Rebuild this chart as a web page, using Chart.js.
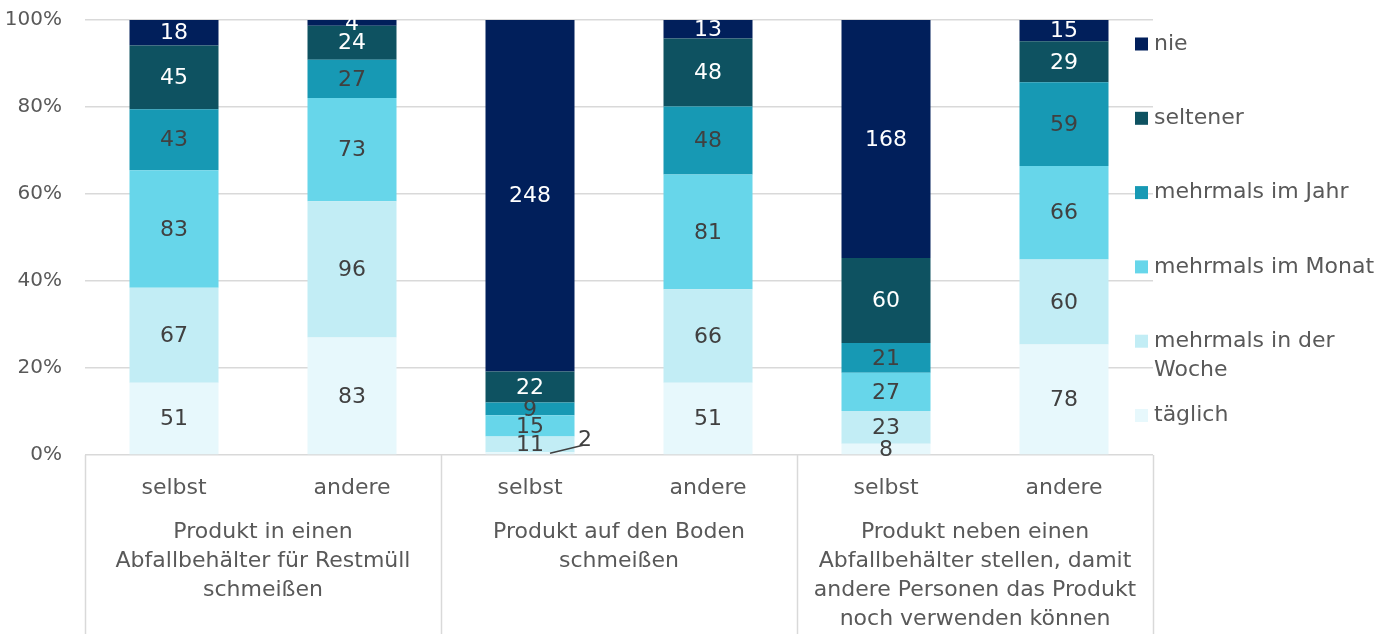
<!DOCTYPE html>
<html>
<head>
<meta charset="utf-8">
<script src="https://cdn.jsdelivr.net/npm/chart.js@4.4.1/dist/chart.umd.min.js"></script>
<style>
html,body{margin:0;padding:0;background:#fff;}
#wrap{width:1387px;height:634px;}
</style>
</head>
<body>
<div id="wrap"><canvas id="c" width="1387" height="634"></canvas></div>
<script>
// Categories (bar level)
const barLabels = ["selbst", "andere", "selbst", "andere", "selbst", "andere"];
// Group labels (lines)
const groupLabels = [
  ["Produkt in einen", "Abfallbehälter für Restmüll", "schmeißen"],
  ["Produkt auf den Boden", "schmeißen"],
  ["Produkt neben einen", "Abfallbehälter stellen, damit", "andere Personen das Produkt", "noch verwenden können"]
];
// Series counts (bottom to top)
const taeglich      = [51, 83, 2, 51, 8, 78];
const proWoche      = [67, 96, 11, 66, 23, 60];
const proMonat      = [83, 73, 15, 81, 27, 66];
const proJahr       = [43, 27, 9, 48, 21, 59];
const seltener      = [45, 24, 22, 48, 60, 29];
const nie           = [18, 4, 248, 13, 168, 15];
const seriesNames   = ["täglich", "mehrmals in der\nWoche", "mehrmals im Monat", "mehrmals im Jahr", "seltener", "nie"];
const seriesColors  = ["#e7f8fc", "#c2edf5", "#67d6ea", "#1799b4", "#0e5261", "#011f5b"];
const labelColors   = ["#404040", "#404040", "#404040", "#404040", "#ffffff", "#ffffff"];
const yTicks = [0, 20, 40, 60, 80, 100];

const seriesCounts = [taeglich, proWoche, proMonat, proJahr, seltener, nie];
const totals = barLabels.map((_, i) => seriesCounts.reduce((s, a) => s + a[i], 0));

const FONT = "'DejaVu Sans', sans-serif";
const GRAY = "#595959";
const LINE = "#d9d9d9";

const datasets = seriesCounts.map((arr, k) => ({
  label: seriesNames[k],
  data: arr.map((v, i) => v / totals[i] * 100),
  counts: arr,
  backgroundColor: seriesColors[k],
  borderWidth: 0,
  categoryPercentage: 1.0,
  barPercentage: 0.5
}));

const overlay = {
  id: 'overlay',
  afterDatasetsDraw(chart) {
    const ctx = chart.ctx;
    ctx.save();
    ctx.font = "22px " + FONT;
    ctx.textAlign = "center";
    ctx.textBaseline = "middle";
    chart.data.datasets.forEach((ds, k) => {
      const meta = chart.getDatasetMeta(k);
      meta.data.forEach((el, i) => {
        const h = Math.abs(el.base - el.y);
        const cy = (el.y + el.base) / 2;
        const txt = String(ds.counts[i]);
        if (h < 5) {
          ctx.strokeStyle = "#404040";
          ctx.lineWidth = 1.5;
          ctx.beginPath();
          ctx.moveTo(el.x + 20, el.base - 1);
          ctx.lineTo(el.x + 53, el.base - 9);
          ctx.stroke();
          ctx.fillStyle = "#404040";
          ctx.fillText(txt, el.x + 55, el.base - 14);
        } else {
          ctx.fillStyle = labelColors[k];
          ctx.fillText(txt, el.x, cy + 1);
        }
      });
    });
    ctx.restore();
  },
  afterDraw(chart) {
    const ctx = chart.ctx;
    const ca = chart.chartArea;
    const xs = chart.scales.x;
    ctx.save();
    // multi-level category box
    const bottom = chart.height;
    const bounds = [ca.left, xs.getPixelForValue(1.5), xs.getPixelForValue(3.5), ca.right];
    ctx.strokeStyle = LINE;
    ctx.lineWidth = 1.5;
    bounds.forEach(x => {
      ctx.beginPath();
      ctx.moveTo(Math.round(x) + 0.5, ca.bottom);
      ctx.lineTo(Math.round(x) + 0.5, bottom);
      ctx.stroke();
    });
    ctx.fillStyle = GRAY;
    ctx.font = "22px " + FONT;
    ctx.textAlign = "center";
    ctx.textBaseline = "middle";
    barLabels.forEach((l, i) => {
      ctx.fillText(l, xs.getPixelForValue(i), ca.bottom + 33);
    });
    groupLabels.forEach((lines, g) => {
      const cx = (bounds[g] + bounds[g + 1]) / 2;
      lines.forEach((ln, j) => {
        ctx.fillText(ln, cx, ca.bottom + 77 + j * 29);
      });
    });
    // legend
    ctx.textAlign = "left";
    const n = chart.data.datasets.length;
    for (let r = 0; r < n; r++) {
      const k = n - 1 - r;
      const ds = chart.data.datasets[k];
      const y0 = ca.top + 24 + r * 74.3;
      ctx.fillStyle = ds.backgroundColor;
      ctx.fillRect(ca.right - 18, y0 - 6.5, 13, 13);
      ctx.fillStyle = GRAY;
      ds.label.split("\n").forEach((ln, j) => {
        ctx.fillText(ln, ca.right + 1, y0 + j * 29);
      });
    }
    ctx.restore();
  }
};

new Chart(document.getElementById('c'), {
  type: 'bar',
  data: { labels: barLabels, datasets },
  options: {
    responsive: false,
    animation: false,
    devicePixelRatio: 1,
    layout: { padding: { left: 0, right: 234, top: 20, bottom: 179 } },
    plugins: { legend: { display: false }, tooltip: { enabled: false } },
    scales: {
      x: { stacked: true, display: false },
      y: {
        stacked: true,
        min: 0, max: 100,
        afterBuildTicks(scale) { scale.ticks = yTicks.map(v => ({ value: v })); },
        afterFit(scale) { scale.width = 85; scale.paddingTop = 0; scale.paddingBottom = 0; },
        border: { display: false },
        grid: { color: LINE, lineWidth: 1.5, drawTicks: false },
        ticks: {
          padding: 23,
          color: GRAY,
          font: { family: FONT, size: 20 },
          callback: v => v + "%"
        }
      }
    }
  },
  plugins: [overlay]
});
</script>
</body>
</html>
